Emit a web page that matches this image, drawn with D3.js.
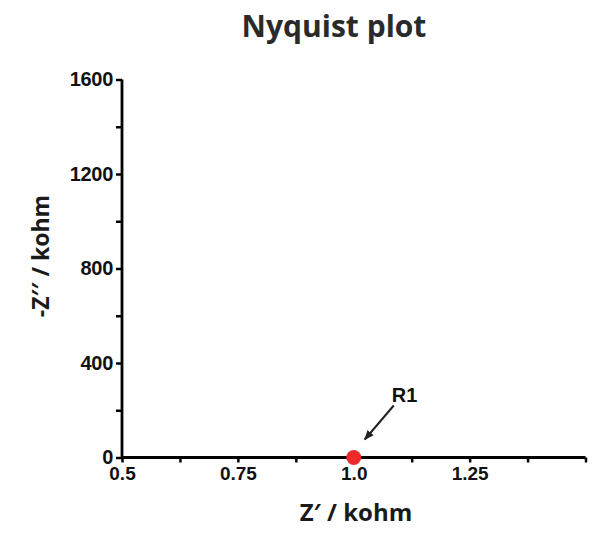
<!DOCTYPE html>
<html><head><meta charset="utf-8">
<script src="https://cdn.jsdelivr.net/npm/d3@7"></script>
<style>body{margin:0;background:#fff}</style>
</head><body>
<svg id="c" width="615" height="537"></svg>
<script>
const pointsX = [1.0];
const pointsY = [0];
const pointLabels = ["R1"];
const xTickValues = [0.5, 0.75, 1.0, 1.25];
const xTickLabels = ["0.5", "0.75", "1.0", "1.25"];
const xMinorTicks = [0.625, 0.875, 1.125, 1.375, 1.5];
const yTickValues = [0, 400, 800, 1200, 1600];
const yMinorTicks = [200, 600, 1000, 1400];

const svg = d3.select("#c");
const x = d3.scaleLinear().domain([0.5, 1.5]).range([122, 585.5]);
const y = d3.scaleLinear().domain([0, 1600]).range([457.5, 79.5]);

const tickFont = "Liberation Sans, Arial, sans-serif";

// minor ticks
svg.append("g").attr("transform", "translate(0,457.5)")
  .call(d3.axisBottom(x).tickValues(xMinorTicks).tickSize(5).tickFormat(""))
  .call(g => { g.select(".domain").remove(); g.selectAll("line").attr("stroke-width", 2.5); });
svg.append("g").attr("transform", "translate(122,0)")
  .call(d3.axisLeft(y).tickValues(yMinorTicks).tickSize(6).tickFormat(""))
  .call(g => { g.select(".domain").remove(); g.selectAll("line").attr("stroke-width", 2.5); });

// x axis
const gx = svg.append("g").attr("transform", "translate(0,457.5)")
  .call(d3.axisBottom(x).tickValues(xTickValues).tickSize(5).tickSizeOuter(0)
    .tickFormat((d, i) => xTickLabels[i]));
gx.select(".domain").attr("stroke-width", 2.8).attr("d", `M${x(0.5)},0H${x(1.5)}`);
gx.selectAll("line").attr("stroke-width", 2.5);
gx.selectAll("text").attr("font-family", tickFont).attr("font-weight", "bold")
  .attr("font-size", 19).attr("fill", "#111").attr("dy", null).attr("y", 22.5);

// y axis
const gy = svg.append("g").attr("transform", "translate(122,0)")
  .call(d3.axisLeft(y).tickValues(yTickValues).tickSize(6).tickSizeOuter(0).tickFormat(d3.format("d")));
gy.select(".domain").attr("stroke-width", 2.8).attr("d", `M0,${y(0)}V${y(1600)}`);
gy.selectAll("line").attr("stroke-width", 2.5);
gy.selectAll("text").attr("font-family", tickFont).attr("font-weight", "bold")
  .attr("font-size", 20).attr("fill", "#111").attr("x", -9).attr("letter-spacing", -0.3);

// title
svg.append("text").attr("x", 334).attr("y", 37).attr("text-anchor", "middle")
  .attr("font-family", "Open Sans, sans-serif").attr("font-weight", "bold")
  .attr("font-size", 30).attr("fill", "#2a2a2a").text("Nyquist plot");

// axis labels
svg.append("text").attr("x", 356).attr("y", 521).attr("text-anchor", "middle")
  .attr("font-family", "Open Sans, sans-serif").attr("font-weight", "bold")
  .attr("font-size", 24).attr("fill", "#1a1a1a").text("Z′ / kohm");
svg.append("text").attr("transform", "translate(49,256) rotate(-90)").attr("text-anchor", "middle")
  .attr("font-family", "Open Sans, sans-serif").attr("font-weight", "bold")
  .attr("font-size", 23).attr("fill", "#1a1a1a").text("-Z′′ / kohm");

// arrow marker
svg.append("defs").append("marker").attr("id", "ah").attr("viewBox", "0 0 10 10")
  .attr("refX", 9).attr("refY", 5).attr("markerWidth", 5).attr("markerHeight", 5)
  .attr("orient", "auto").append("path").attr("d", "M0,1L10,5L0,9Z").attr("fill", "#222");

// points
const pts = pointsX.map((d, i) => ({x: d, y: pointsY[i], label: pointLabels[i]}));
svg.selectAll(".pt").data(pts).enter().append("circle").attr("class", "pt")
  .attr("cx", d => x(d.x)).attr("cy", d => y(d.y)).attr("r", 7.5).attr("fill", "#ee2a2a");

pts.forEach(d => {
  const px = x(d.x), py = y(d.y);
  svg.append("line").attr("x1", px + 40).attr("y1", py - 52).attr("x2", px + 11).attr("y2", py - 18)
    .attr("stroke", "#222").attr("stroke-width", 2).attr("marker-end", "url(#ah)");
  svg.append("text").attr("x", px + 38).attr("y", py - 55.5).attr("font-family", tickFont)
    .attr("font-weight", "bold").attr("font-size", 20).attr("fill", "#111").text(d.label);
});
</script>
</body></html>
